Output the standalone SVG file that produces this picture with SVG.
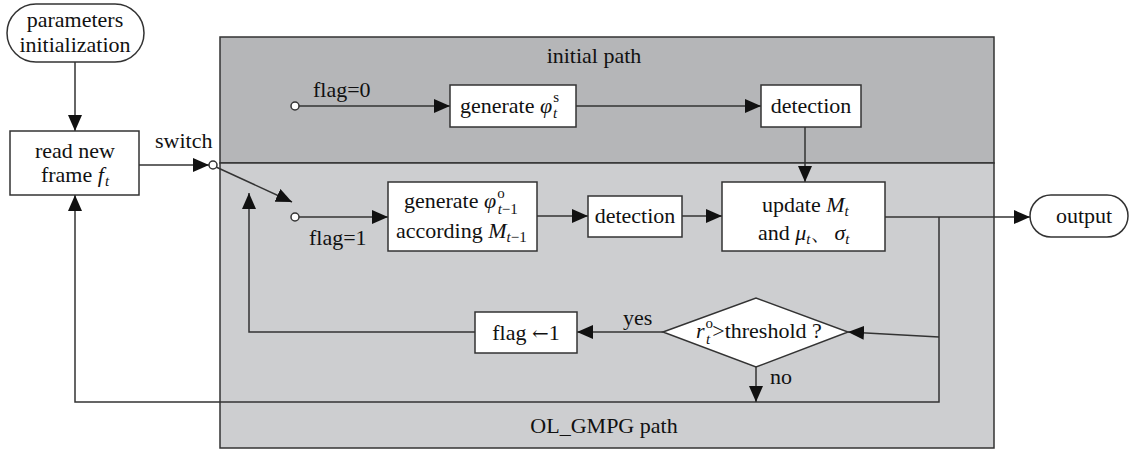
<svg xmlns="http://www.w3.org/2000/svg" width="1132" height="450" viewBox="0 0 1132 450">
  <style>
    text { font-family: "Liberation Serif", "DejaVu Serif", serif; font-size: 22px; fill: #111; }
    .c { text-anchor: middle; }
    .it { font-style: italic; }
    .sub { font-size: 15px; }
    .sym { font-family: "DejaVu Serif", serif; font-size: 20px; }
    .box { fill: #fff; stroke: #333; stroke-width: 1.5; }
    .wire { fill: none; stroke: #333; stroke-width: 1.5; }
    .dot { fill: #fff; stroke: #333; stroke-width: 1.5; }
  </style>
  <defs>
    <marker id="arrow" markerUnits="userSpaceOnUse" markerWidth="16" markerHeight="14" refX="16" refY="7" orient="auto">
      <path d="M0,0 L16,7 L0,14 Z" fill="#111"/>
    </marker>
  </defs>

  <!-- panels -->
  <g id="panels">
    <rect x="220" y="37" width="774" height="126" fill="#b5b6b8" stroke="#333" stroke-width="1.5"/>
    <rect x="220" y="163" width="774" height="285" fill="#cdced0" stroke="#333" stroke-width="1.5"/>
    <text class="c" x="594" y="63">initial path</text>
    <text class="c" x="604" y="433">OL_GMPG path</text>
  </g>

  <!-- connectors -->
  <g id="connectors">
    <line class="wire" x1="75" y1="62" x2="75" y2="131" marker-end="url(#arrow)"/>
    <line class="wire" x1="139" y1="165" x2="209" y2="165" marker-end="url(#arrow)"/>
    <line class="wire" x1="216" y1="167" x2="292" y2="202" marker-end="url(#arrow)"/>
    <line class="wire" x1="299" y1="106" x2="450" y2="106" marker-end="url(#arrow)"/>
    <line class="wire" x1="576" y1="106" x2="761" y2="106" marker-end="url(#arrow)"/>
    <line class="wire" x1="805" y1="127" x2="805" y2="182" marker-end="url(#arrow)"/>
    <line class="wire" x1="299" y1="217" x2="388" y2="217" marker-end="url(#arrow)"/>
    <line class="wire" x1="537" y1="216" x2="588" y2="216" marker-end="url(#arrow)"/>
    <line class="wire" x1="682" y1="216" x2="722" y2="216" marker-end="url(#arrow)"/>
    <line class="wire" x1="885" y1="217" x2="1030" y2="217" marker-end="url(#arrow)"/>
    <polyline class="wire" points="939,217 939,402 75,402 75,195" marker-end="url(#arrow)"/>
    <line class="wire" x1="939" y1="337" x2="848" y2="332" marker-end="url(#arrow)"/>
    <line class="wire" x1="663" y1="332" x2="577" y2="332" marker-end="url(#arrow)"/>
    <polyline class="wire" points="475,332 249,332 249,193" marker-end="url(#arrow)"/>
    <line class="wire" x1="756" y1="367" x2="756" y2="402" marker-end="url(#arrow)"/>
    <circle class="dot" cx="213" cy="165" r="4"/>
    <circle class="dot" cx="295" cy="106" r="4"/>
    <circle class="dot" cx="295" cy="217" r="4"/>
    <text x="155" y="148">switch</text>
    <text x="313" y="97">flag=0</text>
    <text x="309" y="245">flag=1</text>
    <text x="623" y="325">yes</text>
    <text x="770" y="384">no</text>
  </g>

  <g id="params">
    <rect class="box" x="7" y="4" width="137" height="58" rx="29"/>
    <text class="c" x="75" y="27">parameters</text>
    <text class="c" x="75" y="52">initialization</text>
  </g>

  <g id="read-frame">
    <rect class="box" x="10" y="131" width="129" height="64"/>
    <text class="c" x="75" y="158">read new</text>
    <text class="c" x="75" y="182">frame <tspan class="it">f</tspan><tspan class="sub it" dx="1" dy="4">t</tspan></text>
  </g>

  <g id="gen-init">
    <rect class="box" x="450" y="85" width="126" height="42"/>
    <text x="460" y="113">generate <tspan class="it">φ</tspan><tspan class="sub" dx="1" dy="-11">s</tspan><tspan class="sub it" dx="-6" dy="16">t</tspan></text>
  </g>

  <g id="detect-init">
    <rect class="box" x="761" y="85" width="100" height="42"/>
    <text class="c" x="811" y="113">detection</text>
  </g>

  <g id="gen-ol">
    <rect class="box" x="388" y="182" width="149" height="69"/>
    <text x="404" y="208">generate <tspan class="it">φ</tspan><tspan class="sub" dx="1" dy="-10">o</tspan><tspan class="sub" dx="-7" dy="16"><tspan class="it">t</tspan>−1</tspan></text>
    <text x="396" y="238">according <tspan class="it">M</tspan><tspan class="sub" dy="4"><tspan class="it">t</tspan>−1</tspan></text>
  </g>

  <g id="detect-ol">
    <rect class="box" x="588" y="196" width="94" height="41"/>
    <text class="c" x="635" y="223">detection</text>
  </g>

  <g id="update">
    <rect class="box" x="722" y="182" width="163" height="69"/>
    <text x="762" y="212">update <tspan class="it">M</tspan><tspan class="sub it" dy="4">t</tspan></text>
    <text x="758" y="240">and <tspan class="it">μ</tspan><tspan class="sub it" dy="4">t</tspan><tspan dy="-4">、</tspan><tspan class="it" dx="2">σ</tspan><tspan class="sub it" dy="4">t</tspan></text>
  </g>

  <g id="output">
    <rect class="box" x="1030" y="195" width="98" height="42" rx="21"/>
    <text class="c" x="1084" y="223">output</text>
  </g>

  <g id="decision">
    <polygon class="box" points="663,332 756,298 848,332 756,367"/>
    <text x="696" y="338"><tspan class="it">r</tspan><tspan class="sub" dx="1" dy="-10">o</tspan><tspan class="sub it" dx="-7" dy="16">t</tspan><tspan dx="2" dy="-6">&gt;threshold ?</tspan></text>
  </g>

  <g id="flag-set">
    <rect class="box" x="475" y="312" width="102" height="41"/>
    <text class="c" x="526" y="340">flag <tspan class="sym">←</tspan>1</text>
  </g>
</svg>
